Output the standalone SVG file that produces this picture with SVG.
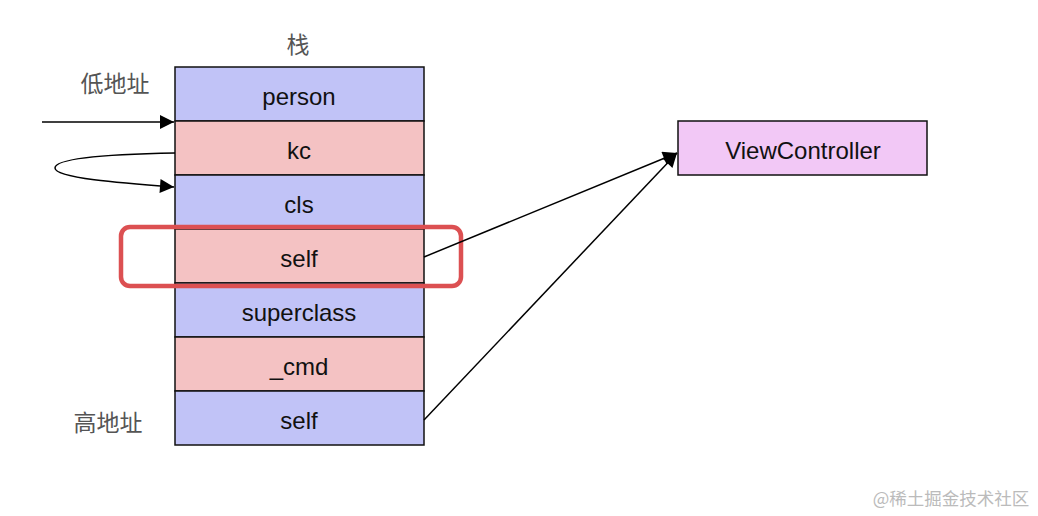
<svg xmlns="http://www.w3.org/2000/svg" width="1038" height="516" viewBox="0 0 1038 516">
<defs>
<style>
.cell{stroke:#111;stroke-width:1.5}
.b{fill:#c1c3f7}
.r{fill:#f4c2c3}
.t{font-family:"Liberation Sans",Arial,sans-serif;font-size:24px;fill:#111;text-anchor:middle}
.cjk{font-family:"Noto Sans CJK SC",sans-serif;font-size:23px;fill:#555;text-anchor:middle}
.ln{fill:none;stroke:#000;stroke-width:1.5}
</style>
<marker id="ah2" viewBox="0 0 12 12" refX="12" refY="6" markerWidth="18" markerHeight="14" markerUnits="userSpaceOnUse" orient="auto">
<path d="M0,0 L12,6 L0,12 z" fill="#000"/>
</marker>
</defs>
<rect width="1038" height="516" fill="#fff"/>
<text class="cjk" x="298" y="53">栈</text>
<text class="cjk" x="115" y="92">低地址</text>
<text class="cjk" x="108" y="431">高地址</text>
<g id="stack">
<g id="n-person"><rect class="cell b" x="175" y="67" width="249" height="54"/><text class="t" x="299" y="105">person</text></g>
<g id="n-kc"><rect class="cell r" x="175" y="121" width="249" height="54"/><text class="t" x="299" y="159">kc</text></g>
<g id="n-cls"><rect class="cell b" x="175" y="175" width="249" height="54"/><text class="t" x="299" y="213">cls</text></g>
<g id="n-self1"><rect class="cell r" x="175" y="229" width="249" height="54"/><text class="t" x="299" y="267">self</text></g>
<g id="n-superclass"><rect class="cell b" x="175" y="283" width="249" height="54"/><text class="t" x="299" y="321">superclass</text></g>
<g id="n-cmd"><rect class="cell r" x="175" y="337" width="249" height="54"/><text class="t" x="299" y="375">_cmd</text></g>
<g id="n-self2"><rect class="cell b" x="175" y="391" width="249" height="54"/><text class="t" x="299" y="429">self</text></g>
</g>
<g id="highlight"><rect x="121" y="227" width="340" height="59" rx="9" fill="none" stroke="#dc5052" stroke-width="4.5"/></g>
<g id="n-vc"><rect x="678" y="121" width="249" height="54" fill="#f2c8f6" stroke="#111" stroke-width="1.5"/><text class="t" x="803" y="159">ViewController</text></g>
<g id="connectors">
<line class="ln" x1="42" y1="122" x2="174" y2="122" stroke-width="2.5" marker-end="url(#ah2)"/>
<path class="ln" d="M175,153 C120,154 55,157 55,168 C55,178 120,183 174,187" marker-end="url(#ah2)"/>
<line class="ln" x1="424" y1="257" x2="677" y2="153" marker-end="url(#ah2)"/>
<line class="ln" x1="424" y1="420" x2="677" y2="153" marker-end="url(#ah2)"/>
</g>
<text x="951" y="505" font-family="Noto Sans CJK SC,sans-serif" font-size="17.5" fill="#bbb" text-anchor="middle">@稀土掘金技术社区</text>
</svg>
